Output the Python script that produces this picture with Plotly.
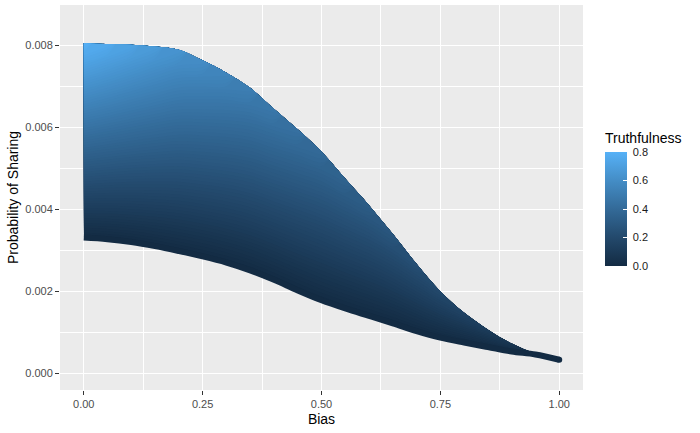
import plotly.graph_objects as go

# values: centre of the point cloud's edges at each bias
bias = [0.00, 0.05, 0.10, 0.15, 0.20, 0.25, 0.30, 0.35, 0.40, 0.45, 0.50,
        0.55, 0.60, 0.65, 0.70, 0.75, 0.80, 0.85, 0.90, 0.95, 1.00]
share_top = [0.00805, 0.00803, 0.00801, 0.00797, 0.00789, 0.00763, 0.00733,
             0.00696, 0.00645, 0.00595, 0.00541, 0.00475, 0.00410, 0.00340,
             0.00267, 0.00200, 0.00148, 0.00107, 0.00073, 0.00049, 0.00033]
share_bottom = [0.00331, 0.00327, 0.00320, 0.00310, 0.00298, 0.00285, 0.00270,
                0.00251, 0.00228, 0.00202, 0.00178, 0.00158, 0.00140, 0.00122,
                0.00103, 0.00087, 0.00075, 0.00064, 0.00053, 0.00046, 0.00033]
# truthfulness seen (from the colour) along the top edge; bottom edge is 0
truth_top = [0.80, 0.76, 0.72, 0.68, 0.64, 0.60, 0.56, 0.52, 0.48, 0.44, 0.40,
             0.36, 0.32, 0.28, 0.24, 0.20, 0.16, 0.12, 0.08, 0.04, 0.00]
truth_bottom = [0.0] * len(bias)
t_max = 0.8

# ggplot default continuous scale (#132B43 -> #56B1F7, Lab)
gg_scale = [[0.0, "#132B43"], [0.25, "#23496C"], [0.5, "#336A98"],
            [0.75, "#448DC6"], [1.0, "#56B1F7"]]

hidden_axis = dict(showgrid=False, showline=False, showticklabels="none",
                   startline=False, endline=False, minorgridcount=0,
                   gridcolor="rgba(0,0,0,0)", linecolor="rgba(0,0,0,0)")

fig = go.Figure()
fig.add_trace(go.Carpet(
    carpet="c1", a=bias, b=[0, 1],
    x=[bias, bias], y=[share_bottom, share_top],
    aaxis=hidden_axis, baxis=hidden_axis))
fig.add_trace(go.Contourcarpet(
    carpet="c1", a=bias, b=[0, 1], z=[truth_bottom, truth_top],
    autocontour=False,
    contours=dict(start=0, end=t_max, size=0.01, coloring="fill",
                  showlines=False),
    line=dict(width=0), colorscale=gg_scale, zauto=False, zmin=0, zmax=t_max,
    showscale=False))

# bottom edge: truthfulness 0 points
fig.add_trace(go.Scatter(
    x=bias, y=share_bottom, mode="lines",
    line=dict(color="#132B43", width=6, shape="spline"),
    hoverinfo="skip", showlegend=False))

# end point + colour bar
nb = "\u00a0"
fig.add_trace(go.Scatter(
    x=[bias[-1]], y=[share_bottom[-1]], mode="markers",
    marker=dict(size=6, color=[truth_bottom[-1]], colorscale=gg_scale,
                cmin=0, cmax=t_max, showscale=True,
                colorbar=dict(
                    x=1.0426, xanchor="left", y=0.322, yanchor="bottom",
                    ypad=0, xpad=0, thickness=22, len=114, lenmode="pixels",
                    tickvals=[0, 0.2, 0.4, 0.6, 0.8],
                    ticktext=[nb + s for s in ["0.0", "0.2", "0.4", "0.6", "0.8"]],
                    ticks="inside", ticklen=4, tickcolor="white",
                    tickfont=dict(size=11, color="#1a1a1a"),
                    outlinewidth=0)),
    hoverinfo="skip", showlegend=False))

axis_common = dict(
    showgrid=True, gridcolor="white", gridwidth=1.3, zeroline=False,
    ticks="outside", ticklen=4, tickwidth=1, tickcolor="#333333",
    tickfont=dict(size=11, color="#4D4D4D"), showline=False, automargin=False,
)

fig.update_layout(
    width=700, height=433,
    margin=dict(l=60, r=117, t=5, b=43),
    paper_bgcolor="white", plot_bgcolor="#EBEBEB",
    font=dict(family="Liberation Sans, Arial, sans-serif"),
    xaxis=dict(axis_common, range=[-0.05, 1.05], tick0=0, dtick=0.25,
               tickformat=".2f",
               title=dict(text="Bias", font=dict(size=14, color="black"),
                          standoff=4),
               minor=dict(showgrid=True, gridcolor="white", gridwidth=0.6,
                          tick0=0, dtick=0.125)),
    yaxis=dict(axis_common, range=[-0.000407, 0.00898], tick0=0, dtick=0.002,
               tickformat=".3f",
               title=dict(text="Probability of Sharing",
                          font=dict(size=14, color="black"), standoff=3),
               minor=dict(showgrid=True, gridcolor="white", gridwidth=0.6,
                          tick0=0, dtick=0.001)),
    annotations=[dict(text="Truthfulness", xref="paper", yref="paper",
                      x=1.0426, y=(390 - 138) / 385, xanchor="left",
                      yanchor="middle", showarrow=False, xshift=-2,
                      font=dict(size=14, color="black"))],
)

fig.write_html("out.html", config={"displayModeBar": False},
               post_script="document.body.style.margin='0px';")
